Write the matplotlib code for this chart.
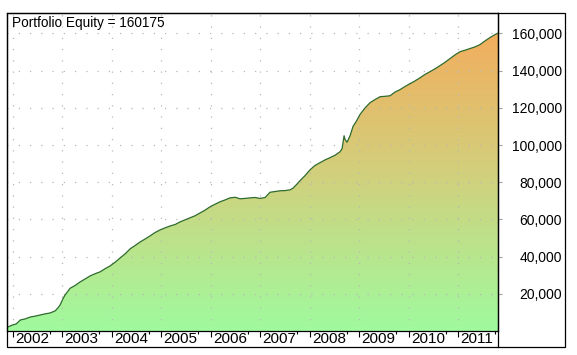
import numpy as np
import pandas as pd
import matplotlib
matplotlib.use("Agg")
import matplotlib.pyplot as plt
import matplotlib.dates as mdates
import matplotlib.transforms as mtrans
from matplotlib.colors import LinearSegmentedColormap
from matplotlib.patches import Rectangle
from matplotlib.lines import Line2D
from matplotlib.ticker import FuncFormatter

plt.rcParams['font.family'] = ['Liberation Sans', 'DejaVu Sans']

# equity curve
dates = pd.to_datetime([
    "2001-11-26", "2001-12-27", "2002-01-25", "2002-02-24", "2002-04-01", "2002-05-08",
    "2002-06-14", "2002-07-20", "2002-08-26", "2002-10-02", "2002-11-08", "2002-11-30",
    "2002-12-15", "2003-01-06", "2003-01-21", "2003-02-27", "2003-04-05", "2003-05-12",
    "2003-06-18", "2003-07-24", "2003-08-30", "2003-10-06", "2003-11-12", "2003-12-19",
    "2004-01-25", "2004-03-02", "2004-04-08", "2004-05-15", "2004-06-21", "2004-07-28",
    "2004-09-03", "2004-10-10", "2004-11-16", "2004-12-23", "2005-01-29", "2005-03-07",
    "2005-04-13", "2005-05-19", "2005-06-25", "2005-08-01", "2005-09-07", "2005-10-13",
    "2005-11-19", "2005-12-26", "2006-02-01", "2006-03-10", "2006-04-16", "2006-05-23",
    "2006-06-29", "2006-08-04", "2006-09-10", "2006-10-17", "2006-11-23", "2006-12-30",
    "2007-02-05", "2007-02-27", "2007-03-13", "2007-04-19", "2007-05-26", "2007-07-02",
    "2007-08-08", "2007-08-30", "2007-09-28", "2007-10-20", "2007-11-26", "2008-01-03",
    "2008-02-08", "2008-03-16", "2008-04-22", "2008-05-29", "2008-07-05", "2008-08-11",
    "2008-08-26", "2008-09-10", "2008-09-17", "2008-10-02", "2008-10-24", "2008-11-15",
    "2008-12-15", "2009-01-06", "2009-02-12", "2009-03-21", "2009-04-27", "2009-06-03",
    "2009-07-09", "2009-08-15", "2009-09-21", "2009-10-28", "2009-12-04", "2010-01-10",
    "2010-02-16", "2010-03-25", "2010-05-01", "2010-06-07", "2010-07-13", "2010-08-19",
    "2010-09-25", "2010-11-01", "2010-12-08", "2011-01-14", "2011-02-20", "2011-03-29",
    "2011-05-05", "2011-06-10", "2011-07-17", "2011-08-23", "2011-09-29", "2011-10-21",
])
equity = np.array([
    2200, 3200, 3800, 5900, 6500, 7500,
    8000, 8600, 9200, 9700, 10800, 12500,
    14000, 17500, 19400, 23000, 24500, 26400,
    28000, 29600, 30800, 31800, 33500, 35000,
    37000, 39300, 41500, 44200, 46000, 47900,
    49500, 51200, 53000, 54400, 55500, 56500,
    57300, 58700, 59800, 60900, 62000, 63500,
    65000, 66800, 68200, 69500, 70500, 71600,
    71900, 71100, 71300, 71600, 71800, 71300,
    71800, 73500, 74600, 75000, 75400, 75500,
    75900, 76800, 79000, 80800, 83500, 86700,
    89000, 90500, 92000, 93200, 94500, 96400,
    98000, 105000, 103000, 101500, 105000, 110000,
    113500, 116500, 120000, 122800, 124500, 126000,
    126200, 126500, 128500, 129800, 131500, 133000,
    134500, 136200, 138000, 139500, 141000, 142700,
    144500, 146500, 148500, 150200, 151000, 151900,
    152800, 154000, 156000, 157800, 159400, 160175,
])
y_ticks = [20000, 40000, 60000, 80000, 100000, 120000, 140000, 160000]
title = "Portfolio Equity = %d" % equity[-1]

W, H = 577, 355
fig = plt.figure(figsize=(W / 100, H / 100), dpi=100)
ax = fig.add_axes([7 / W, 1 - 331 / H, (498 - 7) / W, (331 - 13) / H])

x0 = mdates.date2num(pd.Timestamp("2001-11-18"))
x1 = mdates.date2num(dates[-1])
ymax = 171000

# gradient fill under the curve
cmap = LinearSegmentedColormap.from_list("eq", ["#A0FA9E", "#CFD27E", "#F2AE5E"])
grad = np.linspace(0, 1, 256).reshape(-1, 1)
im = ax.imshow(grad, extent=[x0, x1, 0, equity.max()], origin="lower",
               aspect="auto", cmap=cmap, zorder=1)
poly = ax.fill_between(dates, equity, 0, color="none", lw=0)
im.set_clip_path(poly.get_paths()[0], transform=ax.transData)
ax.plot(dates, equity, color="#2F6B2F", lw=0.9, zorder=3)

ax.set_xlim(x0, x1)
ax.set_ylim(0, ymax)

# x axis: years, label just right of the year-start tick
ax.xaxis.set_major_locator(mdates.YearLocator())
ax.xaxis.set_minor_locator(mdates.MonthLocator(bymonth=10))
ax.xaxis.set_major_formatter(mdates.DateFormatter("%Y"))
ax.tick_params(axis="x", which="major", direction="out", length=4.5, width=0.8,
               color="black", labelsize=11, pad=-4)
ax.tick_params(axis="x", which="minor", direction="out", length=2.5, width=0.8,
               color="black")
offset = mtrans.ScaledTranslation(2 / 100, 0, fig.dpi_scale_trans)
for lab in ax.get_xticklabels():
    lab.set_ha("left")
    lab.set_transform(lab.get_transform() + offset)

# y axis on the right, labels right-aligned against the frame
ax.yaxis.tick_right()
ax.set_yticks(y_ticks)
ax.yaxis.set_major_formatter(FuncFormatter(lambda v, p: f"{int(v):,}"))
ax.tick_params(axis="y", direction="out", length=3, width=0.8, color="#A0A0A0",
               labelsize=10, pad=43)
for lab in ax.get_yticklabels():
    lab.set_ha("right")

# dotted grid
ax.grid(True, which="major", color="#B8B8B8", linestyle=(0, (1, 8)), lw=0.9, zorder=4)
ax.set_axisbelow(False)

for s in ax.spines.values():
    s.set_color("black")
    s.set_linewidth(0.9)

ax.text(5 / 491, (331 - 27) / 318, title, transform=ax.transAxes, fontsize=9.8,
        ha="left", va="baseline", zorder=5)

# outer frame and divider
fig.patches.append(Rectangle((7 / W, 1 - 347 / H), (565 - 7) / W, (347 - 13) / H,
                             transform=fig.transFigure, fill=False, ec="black", lw=0.9))
fig.lines.append(Line2D([498 / W, 498 / W], [1 - 347 / H, 1 - 13 / H],
                        transform=fig.transFigure, color="black", lw=0.9))

fig.savefig("out.png", dpi=100)
